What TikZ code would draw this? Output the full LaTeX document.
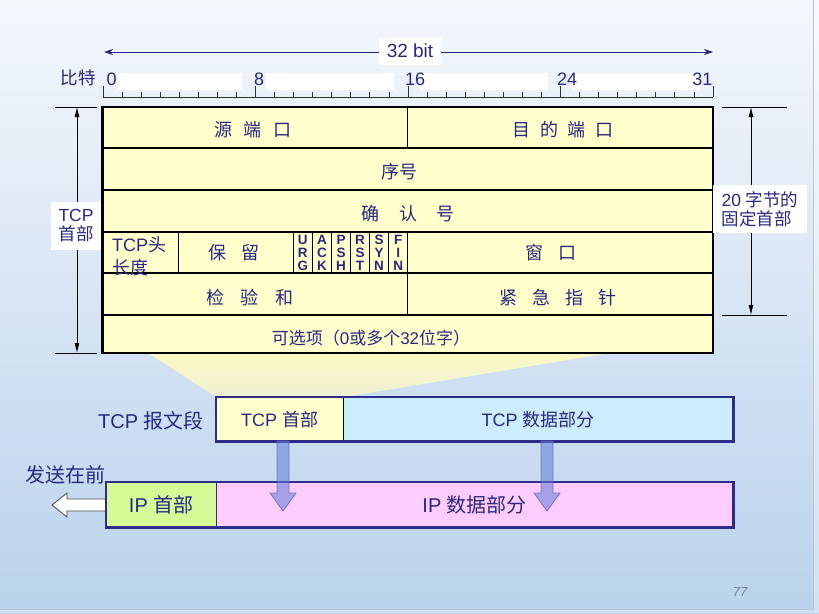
\documentclass[tikz,border=0pt]{standalone}
\usepackage{fontspec}
\setmainfont{Liberation Sans}
\newfontfamily\cjk{Noto Sans CJK SC}
\usetikzlibrary{arrows.meta}
\definecolor{txt}{RGB}{40,40,130}
\definecolor{bgtop}{RGB}{244,247,252}
\definecolor{bgmid}{RGB}{212,227,244}
\definecolor{bgbot}{RGB}{186,210,236}
\definecolor{tabfill}{RGB}{255,255,204}
\definecolor{frame}{RGB}{45,45,135}
\definecolor{tcpdata}{RGB}{204,236,255}
\definecolor{iphead}{RGB}{214,250,150}
\definecolor{ipdata}{RGB}{255,204,255}
\definecolor{arrfill}{RGB}{95,125,215}
\definecolor{arrdraw}{RGB}{90,100,190}
\definecolor{funtop}{RGB}{252,248,196}
\definecolor{funbot}{RGB}{238,240,212}
\definecolor{edge}{RGB}{185,198,212}
\definecolor{pagenum}{RGB}{120,130,148}
\newcommand{\zh}[1]{{\cjk #1}}
\newcommand{\zs}[1]{\hspace{#1em}}
\tikzset{
  lbl/.style={text=txt, inner sep=0pt, font=\fontsize{18}{20}\selectfont},
  rul/.style={text=txt, inner sep=0pt, font=\fontsize{18}{20}\selectfont},
  flag/.style={text=txt, inner sep=0pt, align=center, font=\bfseries\fontsize{13.5}{13}\selectfont},
  mid/.style={text=txt, inner sep=0pt, font=\fontsize{17.5}{19}\selectfont},
  big/.style={text=txt, inner sep=0pt, font=\fontsize{20}{24}\selectfont},
  seg/.style={text=txt, inner sep=0pt, anchor=north west, font=\fontsize{18}{20}\selectfont},
  tick/.style={line width=0.8pt, draw=black!80},
  dim/.style={line width=0.8pt, draw=black},
  dimarrow/.style={dim, {Latex[length=10pt,width=5pt]}-{Latex[length=10pt,width=5pt]}},
  cellline/.style={line width=1.1pt, draw=black},
  segframe/.style={line width=2.2pt, draw=frame},
  downarrow/.style={fill=arrfill, fill opacity=0.55, draw=arrdraw, draw opacity=0.8, line width=0.8pt},
}
\begin{document}
\begin{tikzpicture}[x=1pt,y=-1pt]
\useasboundingbox (0,0) rectangle (819,613);
% background
\shade[top color=bgtop, middle color=bgmid, bottom color=bgbot] (0,0) rectangle (819,613);
\fill[white, opacity=0.35] (813,0) rectangle (819,613);
\fill[white, opacity=0.35] (0,609) rectangle (813,613);
\draw[line width=0.6pt, draw=edge] (813,0) -- (813,609) -- (0,609);

% ruler
\foreach \a/\b in {118/242,266/394,420/548,572/700} \fill[white] (\a,73) rectangle (\b,90);
\draw[tick] (103,97) -- (713,97);
\foreach \i in {0,...,32} \draw[tick] ({103+\i*19.0625},97) -- ++(0,-5);
\foreach \i in {0,8,16,24,32} \draw[tick] ({103+\i*19.0625},97) -- ++(0,-11);
\node[rul, anchor=base west] (r0) at (106.5,85.5) {0};
\node[rul, anchor=base west] (r8) at (254,85.5) {8};
\node[rul, anchor=base west] (r16) at (405,85.5) {16};
\node[rul, anchor=base west] (r24) at (557,85.5) {24};
\node[rul, anchor=base east] (r31) at (712.5,85.5) {31};
\node[mid] (bite) at (78,78) {\zh{比特}};

% 32 bit arrow
\coordinate (tl) at (104,52);
\coordinate (tr) at (713,52);
\draw[line width=0.9pt, draw=txt, {Stealth[length=9pt,width=6pt]}-{Stealth[length=9pt,width=6pt]}] (tl) -- (tr);
\node[fill=white, text=txt, font=\fontsize{19}{20}\selectfont, minimum width=62pt, minimum height=27pt, inner sep=0pt] (w32) at (410,51) {32 bit};

% funnel
\shade[top color=funtop, bottom color=funbot] (148,353) -- (610,353) -- (344,397) -- (216,397) -- cycle;

% header table
\fill[tabfill] (102.5,107) rectangle (713,353);
\foreach \y in {148,190,232,273,315} \draw[cellline] (102.5,\y) -- (713,\y);
\draw[cellline] (407.7,107) -- (407.7,148);
\draw[cellline] (407.7,232) -- (407.7,315);
\foreach \k in {4,10,11,12,13,14,15} \draw[cellline] ({102.5+\k*19.078},232) -- ({102.5+\k*19.078},273);
\draw[line width=2.6pt] (102.5,107) rectangle (713,353);

\node[lbl] (src) at (253,130) {\zh{源\zs{0.65}端\zs{0.65}口}};
\node[lbl] (dst) at (563,130) {\zh{目\zs{0.55}的\zs{0.55}端\zs{0.55}口}};
\node[lbl] (seqn) at (399,172) {\zh{序号}};
\node[lbl] (ackn) at (408,214) {\zh{确\zs{1.1}认\zs{1.1}号}};
\node[lbl, anchor=west] (hl1) at (112,245) {TCP\zh{头}};
\node[lbl, anchor=west] (hl2) at (112,268) {\zh{长度}};
\node[lbl] (rsv) at (234,253) {\zh{保\zs{0.8}留}};
\node[flag] (urg) at (302.8,253) {U\\R\\G};
\node[flag] (ackf) at (321.9,253) {A\\C\\K};
\node[flag] (psh) at (341.0,253) {P\\S\\H};
\node[flag] (rst) at (360.0,253) {R\\S\\T};
\node[flag] (syn) at (379.1,253) {S\\Y\\N};
\node[flag] (fin) at (398.2,253) {F\\I\\N};
\node[lbl] (win) at (551,253) {\zh{窗\zs{0.8}口}};
\node[lbl] (chk) at (250,298) {\zh{检\zs{0.9}验\zs{0.9}和}};
\node[lbl] (urp) at (558,298) {\zh{紧\zs{0.85}急\zs{0.85}指\zs{0.85}针}};
\node[lbl, font=\fontsize{17}{20}\selectfont] (opt) at (371,338) {\zh{可选项（}0\zh{或多个}32\zh{位字）}};

% left dimension
\coordinate (lt) at (77,107);
\coordinate (lb) at (77,353);
\coordinate (lt1) at (55,107);
\coordinate (lt2) at (97,107);
\coordinate (lb1) at (55,353);
\coordinate (lb2) at (97,353);
\draw[dim] (lt1) -- (lt2);
\draw[dim] (lb1) -- (lb2);
\draw[dimarrow] (lt) -- (lb);
\node[mid, fill=white, align=center, minimum width=50pt, minimum height=48pt] (tcphd) at (76,226) {TCP\\\zh{首部}};

% right dimension
\coordinate (rt) at (751,107);
\coordinate (rb) at (751,315);
\coordinate (rt1) at (722,107);
\coordinate (rt2) at (787,107);
\coordinate (rb1) at (722,315);
\coordinate (rb2) at (787,315);
\draw[dim] (rt1) -- (rt2);
\draw[dim] (rb1) -- (rb2);
\draw[dimarrow] (rt) -- (rb);
\node[mid, fill=white, align=left, minimum width=94pt, minimum height=48pt] (fixed) at (760,209) {20 \zh{字节的}\\\zh{固定首部}};

% TCP segment
\node[big] (seglbl) at (151,421) {TCP \zh{报文段}};
\node[seg, fill=tabfill, minimum width=127pt, minimum height=44pt] (tcph) at (216,397) {TCP \zh{首部}};
\node[seg, fill=tcpdata, minimum width=390pt, minimum height=44pt] (tcpd) at (343,397) {TCP \zh{数据部分}};
\draw[line width=1pt] (tcph.north east) -- (tcph.south east);
\draw[segframe] (tcph.north west) rectangle (tcpd.south east);

% IP datagram
\node[big] (send) at (65,475) {\zh{发送在前}};
\draw[fill=white, draw=black!70, line width=0.8pt] (109,499) -- (67,499) -- (67,493) -- (52,505) -- (67,517) -- (67,511) -- (109,511) -- cycle;
\node[seg, font=\fontsize{20}{24}\selectfont, fill=iphead, minimum width=110pt, minimum height=45pt] (iph) at (106,482) {IP \zh{首部}};
\node[seg, font=\fontsize{20}{24}\selectfont, fill=ipdata, minimum width=517pt, minimum height=45pt] (ipd) at (216,482) {IP \zh{数据部分}};
\draw[segframe, line width=1.4pt] (iph.north east) -- (iph.south east);
\draw[segframe] (iph.north west) rectangle (ipd.south east);

% down arrows
\foreach \c in {283,547}
  \draw[downarrow] ({\c-6},441) -- ({\c+6},441) -- ({\c+6},493) -- ({\c+13},493) -- (\c,511) -- ({\c-13},493) -- ({\c-6},493) -- cycle;

% page number
\node[text=pagenum, font=\itshape\fontsize{13}{14}\selectfont, inner sep=0pt] (pg) at (740,592) {77};
\end{tikzpicture}
\end{document}
